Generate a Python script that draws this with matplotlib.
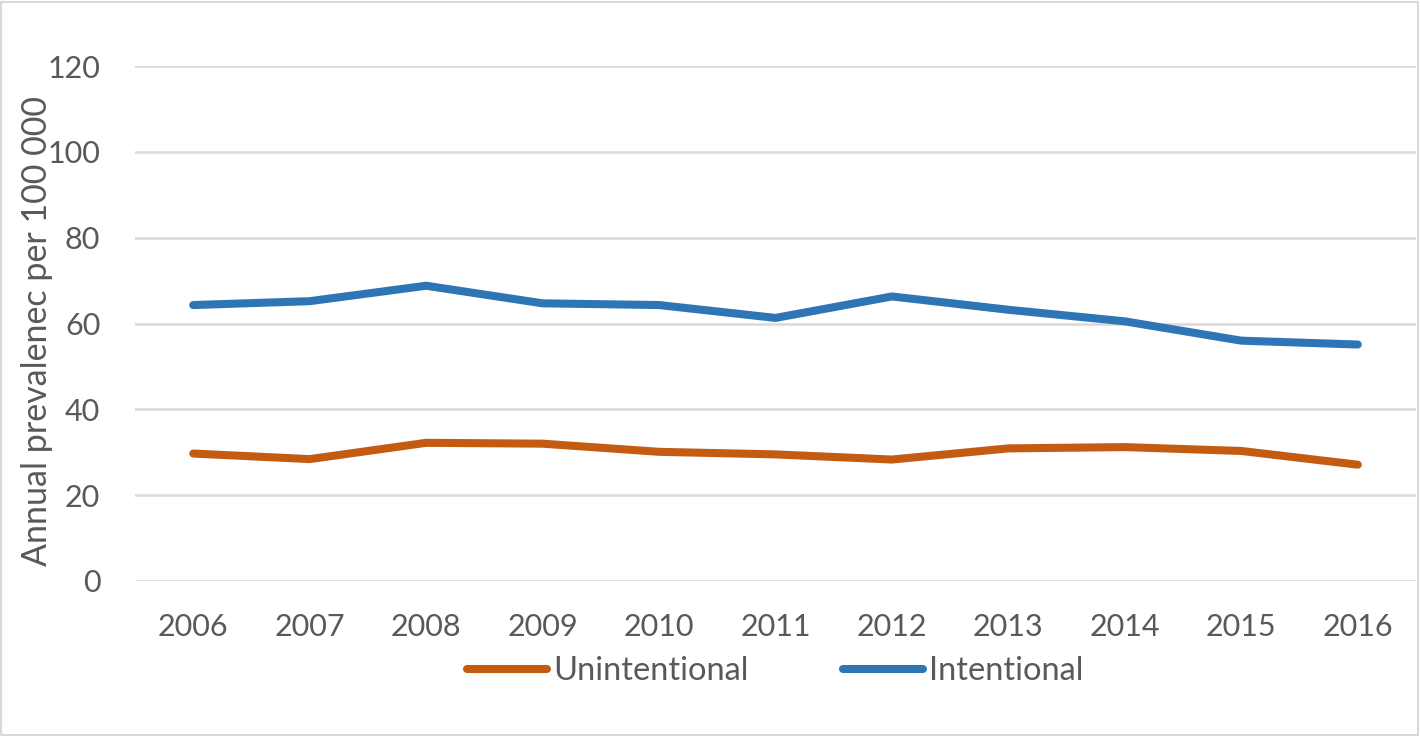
import matplotlib
matplotlib.use("Agg")
import matplotlib.pyplot as plt
from matplotlib.patches import Rectangle

years = ["2006", "2007", "2008", "2009", "2010", "2011", "2012", "2013", "2014", "2015", "2016"]
unintentional = [29.7, 28.4, 32.2, 32.0, 30.1, 29.5, 28.3, 30.9, 31.2, 30.3, 27.1]
intentional = [64.3, 65.2, 68.8, 64.7, 64.3, 61.3, 66.3, 63.2, 60.5, 56.0, 55.1]
y_ticks = [0, 20, 40, 60, 80, 100, 120]

plt.rcParams['font.family'] = ['Lato', 'DejaVu Sans']
text_color = '#595959'

fig = plt.figure(figsize=(14.2, 7.36), dpi=100)
ax = fig.add_axes([135/1420, 155/736, (1416-135)/1420, (581-66)/736])

x = list(range(len(years)))
ax.plot(x, unintentional, color='#C55A11', lw=5.8, solid_capstyle='round', solid_joinstyle='round', label='Unintentional')
ax.plot(x, intentional, color='#2E75B6', lw=5.8, solid_capstyle='round', solid_joinstyle='round', label='Intentional')

ax.set_xlim(-0.5, len(years) - 0.5)
ax.set_ylim(0, 120)
ax.set_yticks(y_ticks)
ax.set_xticks(x)
ax.set_xticklabels(years)
ax.grid(axis='y', color='#D9D9D9', lw=1.8)
ax.set_axisbelow(True)
for s in ax.spines.values():
    s.set_visible(False)
ax.tick_params(axis='y', length=0, pad=25, labelsize=22, labelcolor=text_color)
ax.tick_params(axis='x', length=0, pad=23, labelsize=22, labelcolor=text_color)

fig.text(37/1420, 1 - 331/736, 'Annual prevalenec per 100 000', rotation=90,
         ha='center', va='center', fontsize=24.5, color=text_color)

leg = fig.legend(loc='center', bbox_to_anchor=(775/1420, 1 - 671/736), ncol=2,
                 frameon=False, fontsize=23.5, handlelength=2.45, handletextpad=0.19,
                 columnspacing=2.9)
for t in leg.get_texts():
    t.set_color(text_color)

fig.patches.append(Rectangle((1/1420, 1/736), 1 - 3/1420, 1 - 3/736, transform=fig.transFigure,
                             fill=False, edgecolor='#D9D9D9', lw=1.5))

fig.savefig('out.png', dpi=100)
